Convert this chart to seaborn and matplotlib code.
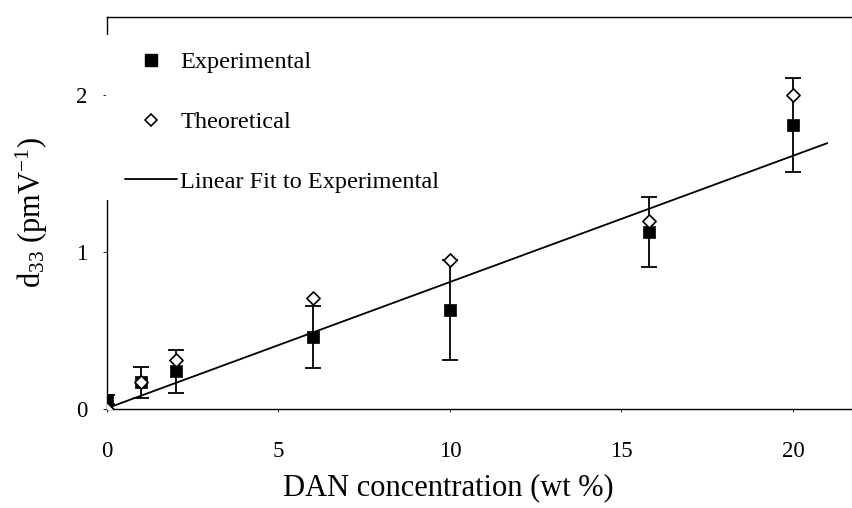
import numpy as np
import pandas as pd
import matplotlib
matplotlib.use("Agg")
import matplotlib.pyplot as plt
from matplotlib.lines import Line2D
from matplotlib.patches import Rectangle
import seaborn as sns

# DAN concentration (wt %) and d33 coefficients (pm/V)
conc = [0, 1, 2, 6, 10, 15.8, 20]
d33_exp = [0.06, 0.17, 0.24, 0.46, 0.63, 1.13, 1.81]
d33_err = [0.03, 0.10, 0.135, 0.20, 0.32, 0.225, 0.30]
d33_theory = [0.0, 0.17, 0.31, 0.71, 0.95, 1.20, 2.00]
# straight-line fit to the experimental points: slope, intercept
fit_coef = [0.0805, 0.005]
fit_range = [0, 21]

x_ticks = [0, 5, 10, 15, 20]
y_ticks = [0, 1, 2]

sns.set_theme(style="white")
plt.rcParams["font.family"] = ["Liberation Serif", "DejaVu Serif"]
plt.rcParams["mathtext.fontset"] = "custom"
plt.rcParams["mathtext.rm"] = "Liberation Serif"
plt.rcParams["mathtext.it"] = "Liberation Serif:italic"
plt.rcParams["text.color"] = "black"
plt.rcParams["axes.labelcolor"] = "black"

fig = plt.figure(figsize=(8.53, 5.08), dpi=100)
ax = fig.add_axes([107 / 853, 99 / 508, 746 / 853, 392 / 508])

df = pd.DataFrame({"conc": conc, "exp": d33_exp, "theory": d33_theory})
fit_x = np.array(fit_range, dtype=float)
fit_df = pd.DataFrame({"x": fit_x, "y": fit_coef[0] * fit_x + fit_coef[1]})

sns.lineplot(data=fit_df, x="x", y="y", ax=ax, color="black", lw=1.3, zorder=3)
ax.errorbar(conc, d33_exp, yerr=d33_err, fmt="none", ecolor="black",
            elinewidth=1.3, capsize=5.5, capthick=1.3, zorder=2)
sns.scatterplot(data=df, x="conc", y="exp", ax=ax, marker="s", s=70,
                color="black", edgecolor="black", linewidth=0.5, zorder=4)
sns.scatterplot(data=df, x="conc", y="theory", ax=ax, marker="D", s=45,
                facecolor="white", edgecolor="black", linewidth=1.2, zorder=5)

ax.set_xlim(0, 21.75)
ax.set_ylim(0, 2.5)
ax.set_xticks(x_ticks)
ax.set_yticks(y_ticks)
ax.tick_params(axis="x", length=2, width=0.6, pad=21, labelsize=16.5, colors="black")
ax.tick_params(axis="y", length=3, width=0.6, pad=11, labelsize=16.5, colors="black")
ax.tick_params(left=True, bottom=True, direction="out")

for side in ["left", "bottom", "top"]:
    ax.spines[side].set_visible(True)
    ax.spines[side].set_color("black")
    ax.spines[side].set_linewidth(1.0)
ax.spines["right"].set_visible(False)

ax.set_xlabel("DAN concentration (wt %)", fontsize=22)
ax.set_ylabel("d$_{33}$ (pmV$^{-1}$)", fontsize=22)
ax.xaxis.set_label_coords(0.458, -0.163)
ax.yaxis.set_label_coords(-0.076, 0.5)

# white box behind the legend, interrupting the left axis line
ax.add_patch(Rectangle((-0.002, (409 - 200) / 392), 0.5, (200 - 35) / 392,
                       transform=ax.transAxes, facecolor="white",
                       edgecolor="none", clip_on=False, zorder=2.6))

handles = [
    Line2D([], [], ls="none", marker="s", ms=8, mfc="black", mec="black"),
    Line2D([], [], ls="none", marker="D", ms=6.5, mfc="white", mec="black", mew=1.2),
    Line2D([], [], color="black", lw=1.3),
]
labels = ["Experimental", "Theoretical", "Linear Fit to Experimental"]
leg = ax.legend(handles, labels, loc="center left",
                bbox_to_anchor=(18 / 746, (409 - 122) / 392),
                frameon=False, fontsize=17.5, handlelength=2.15,
                handletextpad=0.12, labelspacing=1.55, borderpad=0,
                borderaxespad=0)
leg.set_zorder(6)

fig.savefig("out.png", dpi=100)
